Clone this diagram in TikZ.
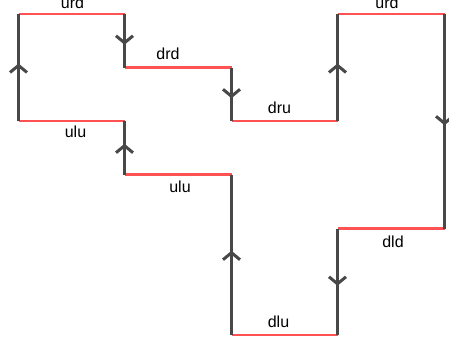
\documentclass[tikz,border=0pt]{standalone}
\usepackage{fontspec}
\setmainfont{Liberation Sans}
\usetikzlibrary{arrows.meta, decorations.markings}
\definecolor{flatred}{RGB}{255,82,82}
\definecolor{risegray}{RGB}{72,72,72}
\tikzset{
	flat/.style={draw=flatred, line width=2.6pt},
	rise/.style={draw=risegray, line width=3pt, postaction={decorate},
		decoration={markings, mark=at position 0.5 with {\arrow[xshift=4pt]{Straight Barb[length=7pt, width=17pt]}}}},
	tag/.style={font=\fontsize{16}{19}\selectfont, inner sep=0pt}
}
\begin{document}
\begin{tikzpicture}[x=1pt, y=-1pt]
				\useasboundingbox (0,0) rectangle (449,343);
				
				\coordinate (A) at (18.5,121);
				\coordinate (B) at (18.5,14);
				\coordinate (C) at (124.5,14);
				\coordinate (D) at (124.5,67.5);
				\coordinate (E) at (231.5,67.5);
				\coordinate (F) at (231.5,121);
				\coordinate (G) at (337.5,121);
				\coordinate (H) at (337.5,14);
				\coordinate (I) at (444.5,14);
				\coordinate (J) at (444.5,228.5);
				\coordinate (K) at (337.5,228.5);
				\coordinate (L) at (337.5,335);
				\coordinate (M) at (231.5,335);
				\coordinate (N) at (231.5,174.5);
				\coordinate (O) at (124.5,174.5);
				\coordinate (P) at (124.5,121);
				
				\draw[flat] (B) -- node[tag, above=4pt, xshift=1pt] {urd} (C);
				\draw[flat] (D) -- node[tag, above=7pt, xshift=-10pt] {drd} (E);
				\draw[flat] (F) -- node[tag, above=6pt, xshift=-5pt] {dru} (G);
				\draw[flat] (H) -- node[tag, above=4pt, xshift=-4pt] {urd} (I);
				\draw[flat] (J) -- node[tag, below=6pt, xshift=2pt] {dld} (K);
				\draw[flat] (L) -- node[tag, above=6pt, xshift=-6pt] {dlu} (M);
				\draw[flat] (N) -- node[tag, below=5pt, xshift=2pt] {ulu} (O);
				\draw[flat] (P) -- node[tag, below=4pt, xshift=4pt] {ulu} (A);
				
				\draw[rise] (A) -- (B);
				\draw[rise] (C) -- (D);
				\draw[rise] (E) -- (F);
				\draw[rise] (G) -- (H);
				\draw[rise] (I) -- (J);
				\draw[rise] (K) -- (L);
				\draw[rise] (M) -- (N);
				\draw[rise] (O) -- (P);
			\end{tikzpicture}
\end{document}
